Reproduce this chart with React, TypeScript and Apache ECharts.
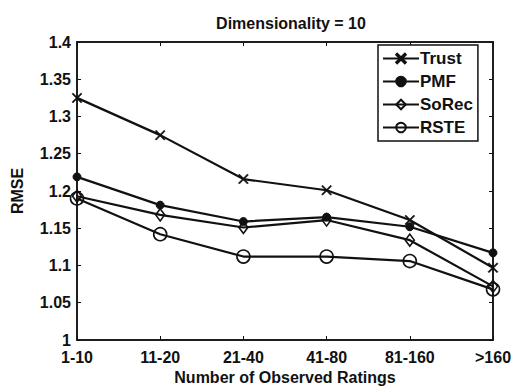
import React, { useEffect, useRef } from "react";
import * as echarts from "echarts";

const categories = ["1-10", "11-20", "21-40", "41-80", "81-160", ">160"];
const trust = [1.325, 1.275, 1.216, 1.201, 1.161, 1.097];
const pmf = [1.219, 1.181, 1.159, 1.165, 1.152, 1.117];
const sorec = [1.193, 1.168, 1.151, 1.161, 1.134, 1.072];
const rste = [1.19, 1.142, 1.112, 1.112, 1.106, 1.068];

const xSym = "path://M0,1L1,0L5,4L9,0L10,1L6,5L10,9L9,10L5,6L1,10L0,9L4,5Z";
const diamond = "path://M5,0L10,5L5,10L0,5Z";

const FONT = "Liberation Sans";
const TXT = "#111";

export default function App() {
  const ref = useRef<HTMLDivElement>(null);
  useEffect(() => {
    if (!ref.current) return;
    const chart = echarts.init(ref.current, null, { renderer: "svg" });
    const mk = (name: string, data: number[], symbol: string, size: number | number[], fill: string, bw: number) => ({
      name,
      type: "line",
      data,
      symbol,
      symbolSize: size,
      lineStyle: { color: "#111", width: 2.2 },
      itemStyle: { color: fill, borderColor: "#111", borderWidth: bw },
      xAxisIndex: 0,
      yAxisIndex: 0,
    });
    const lbl = { fontFamily: FONT, fontSize: 16, fontWeight: "bold", color: TXT };
    chart.setOption({
      animation: false,
      backgroundColor: "#fff",
      textStyle: { fontFamily: FONT, color: TXT },
      title: {
        text: "Dimensionality = 10",
        left: 286,
        textAlign: "center",
        top: 10,
        textStyle: { ...lbl, fontSize: 16 },
      },
      grid: {
        left: 77,
        right: 25,
        top: 42,
        bottom: 46,
        outerBoundsMode: "none",
        containLabel: false,
        show: true,
        borderColor: "#111",
        borderWidth: 1.5,
      },
      legend: {
        orient: "vertical",
        left: 378,
        top: 45,
        itemWidth: 36,
        itemHeight: 12,
        itemGap: 6,
        padding: [5, 5, 5, 4],
        borderColor: "#111",
        borderWidth: 1.5,
        backgroundColor: "#fff",
        textStyle: { ...lbl, fontSize: 17, lineHeight: 17, padding: [0, 0, 0, -4] },
        data: ["Trust", "PMF", "SoRec", "RSTE"],
      },
      xAxis: [
        {
          type: "category",
          data: categories,
          boundaryGap: false,
          name: "Number of Observed Ratings",
          nameLocation: "middle",
          nameGap: 26,
          nameTextStyle: lbl,
          axisLine: { lineStyle: { color: "#111", width: 1.5 } },
          axisTick: { inside: true, length: 4, lineStyle: { color: "#111" } },
          axisLabel: { ...lbl, margin: 9 },
          splitLine: { show: false },
        },
        {
          type: "category",
          data: categories,
          boundaryGap: false,
          position: "top",
          axisLine: { lineStyle: { color: "#111", width: 1.5 } },
          axisTick: { inside: true, length: 4, lineStyle: { color: "#111" } },
          axisLabel: { show: false },
        },
      ],
      yAxis: [
        {
          type: "value",
          min: 1,
          max: 1.4,
          interval: 0.05,
          name: "RMSE",
          nameLocation: "middle",
          nameGap: 52,
          nameTextStyle: lbl,
          axisLine: { show: true, lineStyle: { color: "#111", width: 1.5 } },
          axisTick: { show: true, inside: true, length: 4, lineStyle: { color: "#111" } },
          axisLabel: { ...lbl, margin: 6 },
          splitLine: { show: false },
        },
        {
          type: "value",
          min: 1,
          max: 1.4,
          interval: 0.05,
          position: "right",
          axisLine: { show: true, lineStyle: { color: "#111", width: 1.5 } },
          axisTick: { show: true, inside: true, length: 4, lineStyle: { color: "#111" } },
          axisLabel: { show: false },
          splitLine: { show: false },
        },
      ],
      series: [
        mk("Trust", trust, xSym, 10, "#111", 0.5),
        mk("PMF", pmf, "circle", 8, "#111", 1),
        mk("SoRec", sorec, diamond, [9, 12], "transparent", 1.6),
        mk("RSTE", rste, "circle", 13, "transparent", 1.6),
      ],
    });
    return () => chart.dispose();
  }, []);
  return <div ref={ref} style={{ position: "fixed", left: 0, top: 0, width: 518, height: 386 }} />;
}
